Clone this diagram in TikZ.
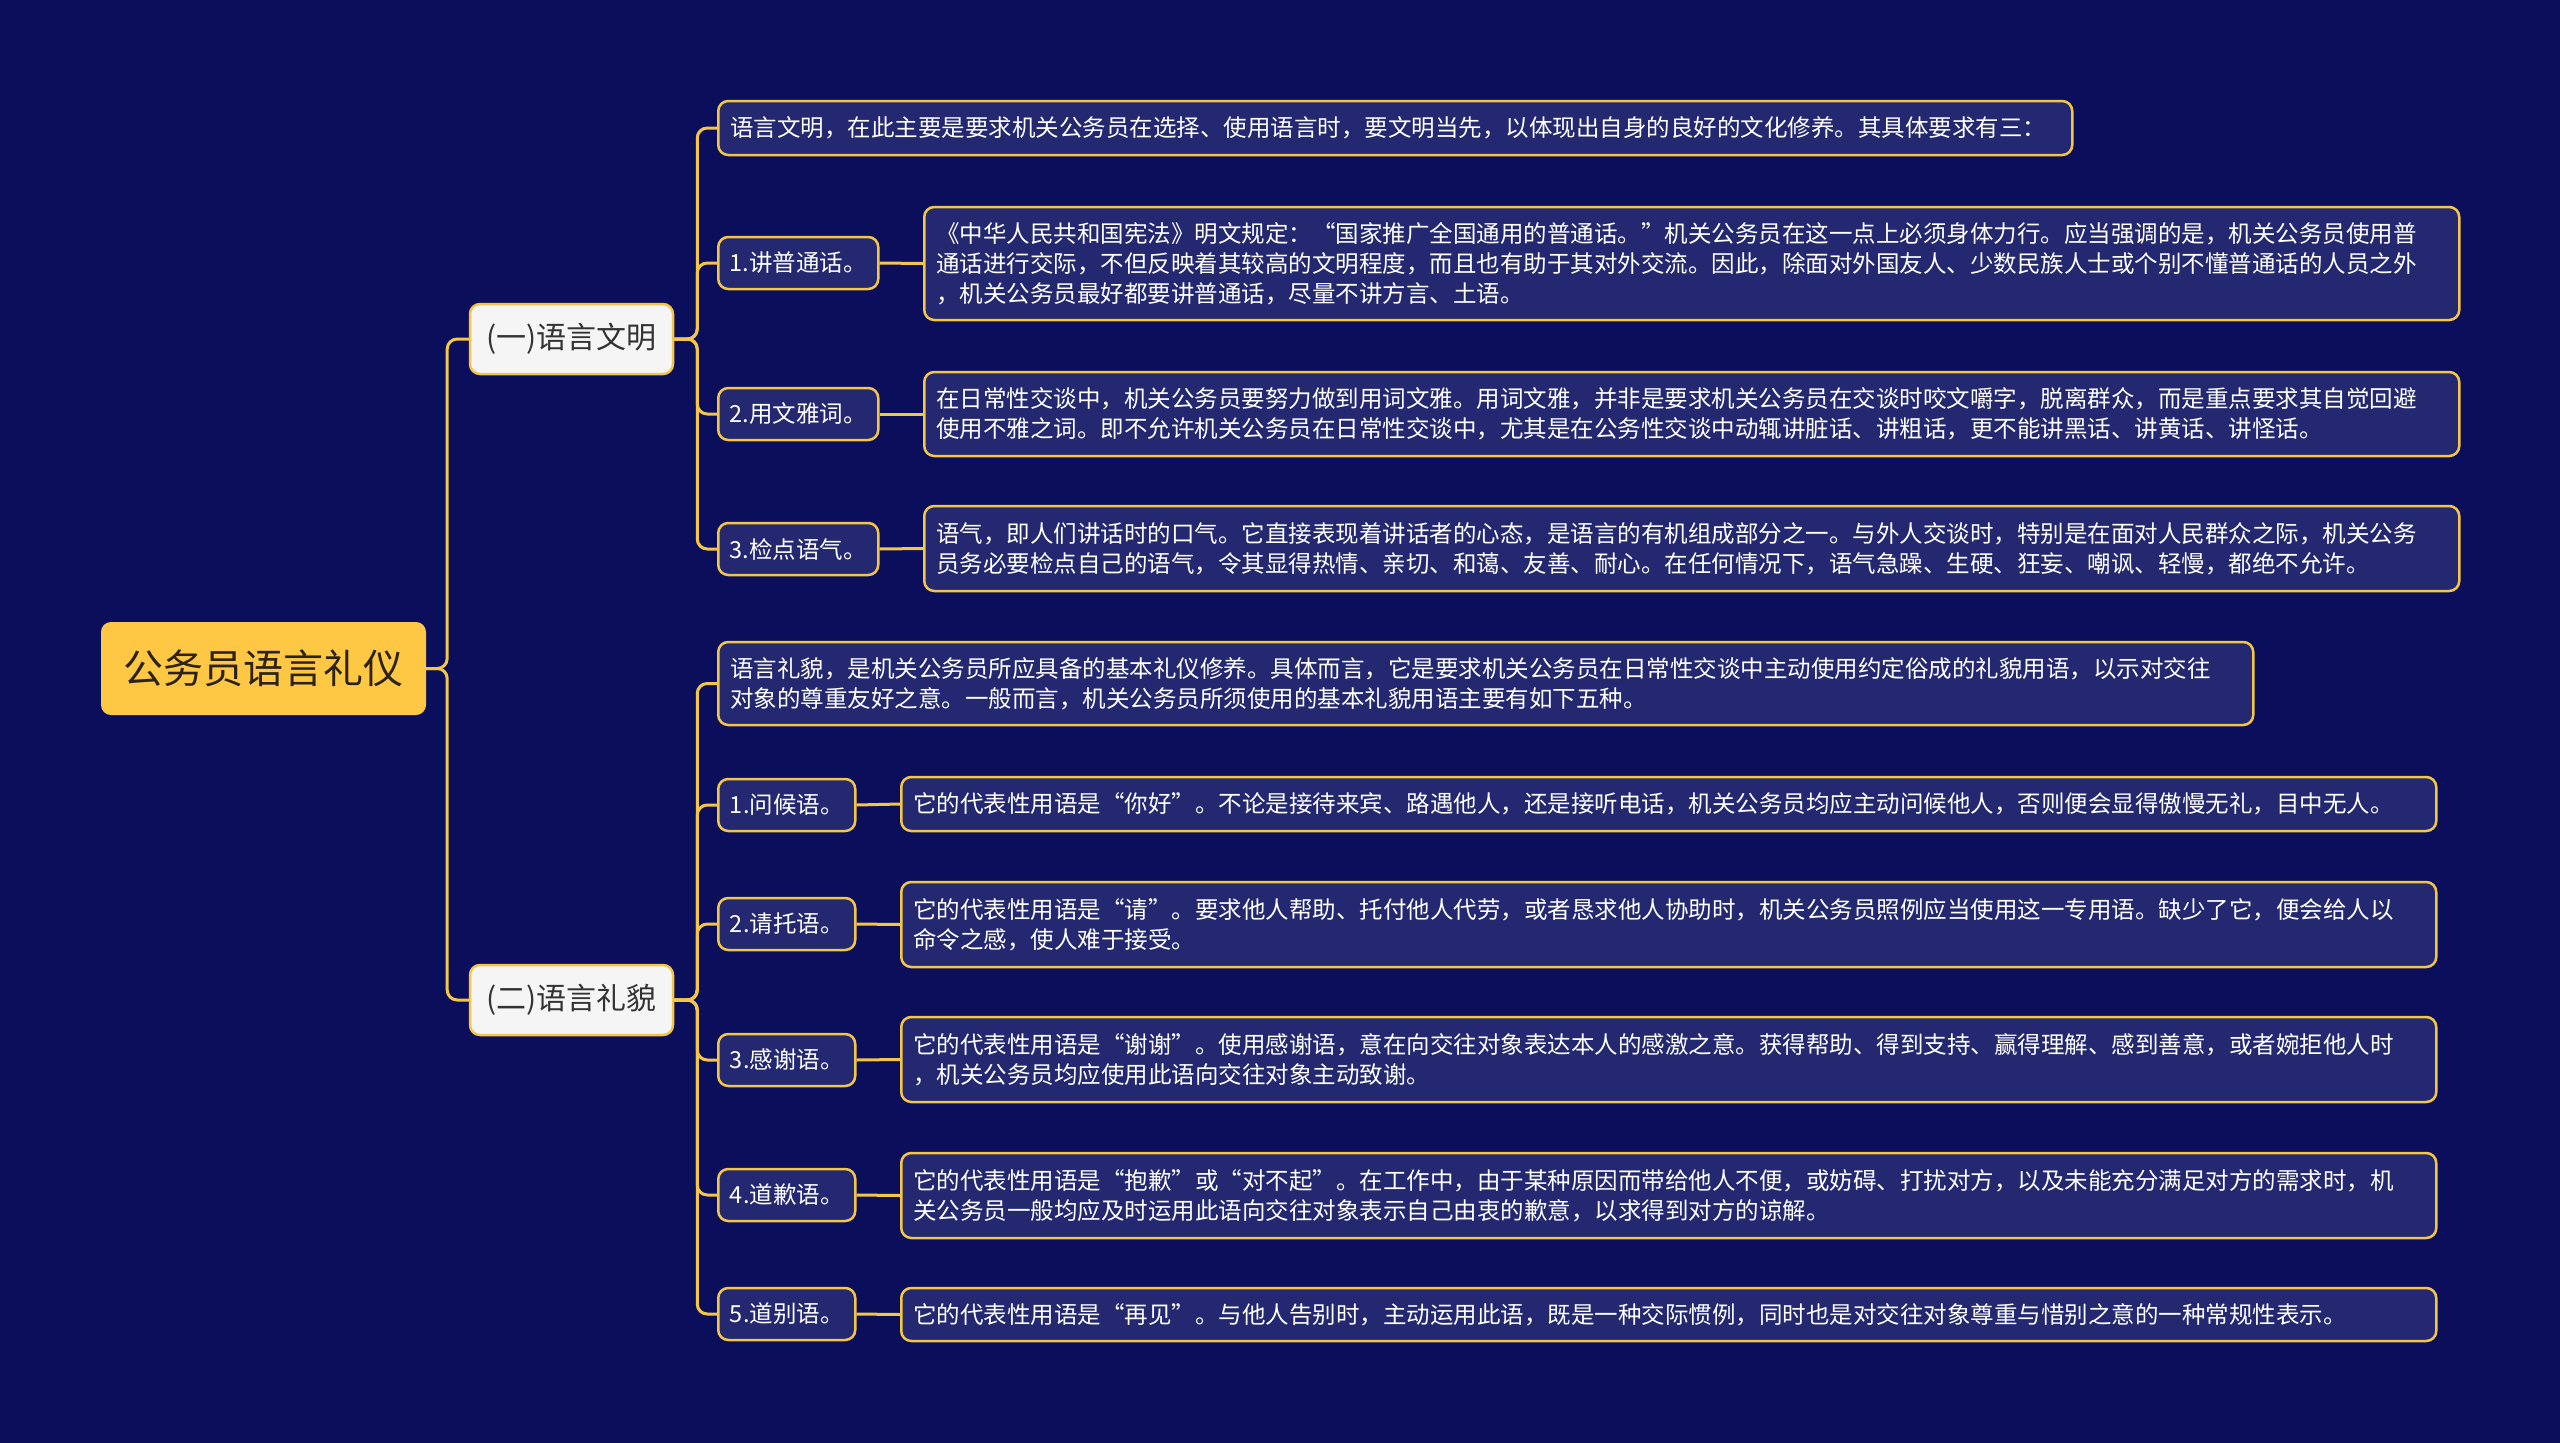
\documentclass[tikz,border=0pt]{standalone}
\usepackage{fontspec}
\newfontfamily\cjk{Noto Sans CJK SC}
\definecolor{bgnavy}{RGB}{11,14,90}
\definecolor{boxnavy}{RGB}{35,40,112}
\definecolor{gold}{RGB}{244,198,72}
\definecolor{rootgold}{RGB}{255,200,68}
\definecolor{inkdark}{RGB}{45,35,20}
\tikzset{
  conn/.style={gold, line width=3pt, rounded corners=10pt},
  rootbox/.style={fill=rootgold, rounded corners=10pt, minimum width=325pt,
    minimum height=93pt, text=inkdark, font=\cjk\fontsize{40}{48}\selectfont},
  topicbox/.style={fill=white!96!black, draw=gold, line width=2.5pt,
    rounded corners=10pt, minimum width=203pt, minimum height=70pt,
    text=black!80, font=\cjk\fontsize{30}{36}\selectfont},
  itembox/.style={fill=boxnavy, draw=gold, line width=2.5pt, rounded corners=10pt,
    anchor=west, minimum height=52pt, text=white,
    font=\cjk\fontsize{23.5}{30}\selectfont},
  textbox/.style 2 args={itembox, align=left, inner xsep=12pt, inner ysep=6pt,
    text width=#1, minimum height=#2},
}
\begin{document}
\begin{tikzpicture}[x=1pt, y=-1pt]
    % Background
    \fill[bgnavy] (0,0) rectangle (2560,1443);

    % Root and the two topics
    \node[rootbox] (root) at (263.5,668.5) {公务员语言礼仪};
    \node[topicbox] (b1) at (571.5,339) {(一)语言文明};
    \node[topicbox] (b2) at (571.5,1000) {(二)语言礼貌};

    % (一) 语言文明
    \node[textbox={1330pt}{54pt}] (yi0) at (717,128)
        {语言文明，在此主要是要求机关公务员在选择、使用语言时，要文明当先，以体现出自身的良好的文化修养。其具体要求有三：};
    \node[itembox, minimum width=160pt] (yi1) at (717,263) {1.讲普通话。};
    \node[textbox={1511pt}{113pt}] (yd1) at (923,263.5)
        {《中华人民共和国宪法》明文规定：“国家推广全国通用的普通话。”机关公务员在这一点上必须身体力行。应当强调的是，机关公务员使用普\\
         通话进行交际，不但反映着其较高的文明程度，而且也有助于其对外交流。因此，除面对外国友人、少数民族人士或个别不懂普通话的人员之外\\
         ，机关公务员最好都要讲普通话，尽量不讲方言、土语。};
    \node[itembox, minimum width=160pt] (yi2) at (717,414) {2.用文雅词。};
    \node[textbox={1511pt}{84pt}] (yd2) at (923,414)
        {在日常性交谈中，机关公务员要努力做到用词文雅。用词文雅，并非是要求机关公务员在交谈时咬文嚼字，脱离群众，而是重点要求其自觉回避\\
         使用不雅之词。即不允许机关公务员在日常性交谈中，尤其是在公务性交谈中动辄讲脏话、讲粗话，更不能讲黑话、讲黄话、讲怪话。};
    \node[itembox, minimum width=160pt] (yi3) at (717,549) {3.检点语气。};
    \node[textbox={1511pt}{85pt}] (yd3) at (923,548.5)
        {语气，即人们讲话时的口气。它直接表现着讲话者的心态，是语言的有机组成部分之一。与外人交谈时，特别是在面对人民群众之际，机关公务\\
         员务必要检点自己的语气，令其显得热情、亲切、和蔼、友善、耐心。在任何情况下，语气急躁、生硬、狂妄、嘲讽、轻慢，都绝不允许。};

    % (二) 语言礼貌
    \node[textbox={1511pt}{83pt}] (li0) at (717,683.5)
        {语言礼貌，是机关公务员所应具备的基本礼仪修养。具体而言，它是要求机关公务员在日常性交谈中主动使用约定俗成的礼貌用语，以示对交往\\
         对象的尊重友好之意。一般而言，机关公务员所须使用的基本礼貌用语主要有如下五种。};
    \node[itembox, minimum width=137pt] (li1) at (717,805) {1.问候语。};
    \node[textbox={1511pt}{54pt}] (ld1) at (900,804)
        {它的代表性用语是“你好”。不论是接待来宾、路遇他人，还是接听电话，机关公务员均应主动问候他人，否则便会显得傲慢无礼，目中无人。};
    \node[itembox, minimum width=137pt] (li2) at (717,924) {2.请托语。};
    \node[textbox={1511pt}{85pt}] (ld2) at (900,924.5)
        {它的代表性用语是“请”。要求他人帮助、托付他人代劳，或者恳求他人协助时，机关公务员照例应当使用这一专用语。缺少了它，便会给人以\\
         命令之感，使人难于接受。};
    \node[itembox, minimum width=137pt] (li3) at (717,1060) {3.感谢语。};
    \node[textbox={1511pt}{85pt}] (ld3) at (900,1059.5)
        {它的代表性用语是“谢谢”。使用感谢语，意在向交往对象表达本人的感激之意。获得帮助、得到支持、赢得理解、感到善意，或者婉拒他人时\\
         ，机关公务员均应使用此语向交往对象主动致谢。};
    \node[itembox, minimum width=137pt] (li4) at (717,1195) {4.道歉语。};
    \node[textbox={1511pt}{85pt}] (ld4) at (900,1195.5)
        {它的代表性用语是“抱歉”或“对不起”。在工作中，由于某种原因而带给他人不便，或妨碍、打扰对方，以及未能充分满足对方的需求时，机\\
         关公务员一般均应及时运用此语向交往对象表示自己由衷的歉意，以求得到对方的谅解。};
    \node[itembox, minimum width=137pt] (li5) at (717,1314) {5.道别语。};
    \node[textbox={1511pt}{53pt}] (ld5) at (900,1314.5)
        {它的代表性用语是“再见”。与他人告别时，主动运用此语，既是一种交际惯例，同时也是对交往对象尊重与惜别之意的一种常规性表示。};

    % Connectors
    \foreach \b in {b1,b2} \draw[conn] (root.east) -- ++(21,0) |- (\b.west);
    \foreach \c in {yi0,yi1,yi2,yi3} \draw[conn] (b1.east) -- ++(23,0) |- (\c.west);
    \foreach \c in {li0,li1,li2,li3,li4,li5} \draw[conn] (b2.east) -- ++(23,0) |- (\c.west);
    \foreach \a/\d in {yi1/yd1,yi2/yd2,yi3/yd3,li1/ld1,li2/ld2,li3/ld3,li4/ld4,li5/ld5}
        \draw[conn] (\a.east) -- (\d.west);
\end{tikzpicture}
\end{document}
